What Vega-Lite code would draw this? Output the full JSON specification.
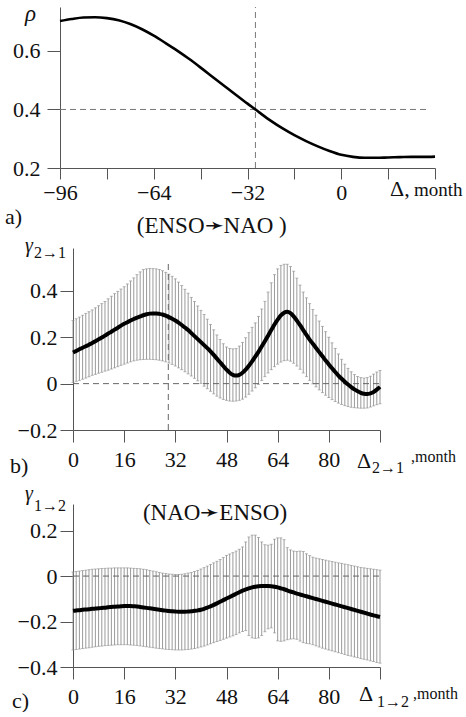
{
  "$schema": "https://vega.github.io/schema/vega-lite/v6.json",
  "padding": {"left": 5, "top": 3, "right": 0, "bottom": 0},
  "background": "white",
  "config": {
    "font": "Liberation Serif",
    "view": {"stroke": null},
    "axis": {
      "grid": false,
      "domainColor": "#555",
      "domainWidth": 1,
      "tickColor": "#555",
      "tickWidth": 1,
      "labelColor": "#111",
      "labelFont": "Liberation Serif",
      "labelFontSize": 22,
      "labelFlush": false,
      "labelOverlap": false
    },
    "text": {"font": "Liberation Serif", "color": "#111"}
  },
  "datasets": {
    "rho": [
      {"lag": -96, "rho": 0.702}, {"lag": -92, "rho": 0.709}, {"lag": -88, "rho": 0.714}, {"lag": -84, "rho": 0.715},
      {"lag": -80, "rho": 0.712}, {"lag": -76, "rho": 0.705}, {"lag": -72, "rho": 0.692}, {"lag": -68, "rho": 0.674},
      {"lag": -64, "rho": 0.652}, {"lag": -60, "rho": 0.627}, {"lag": -56, "rho": 0.601}, {"lag": -52, "rho": 0.573},
      {"lag": -48, "rho": 0.543}, {"lag": -44, "rho": 0.512}, {"lag": -40, "rho": 0.481}, {"lag": -36, "rho": 0.450},
      {"lag": -32, "rho": 0.420}, {"lag": -28, "rho": 0.390}, {"lag": -24, "rho": 0.361}, {"lag": -20, "rho": 0.335},
      {"lag": -16, "rho": 0.312}, {"lag": -12, "rho": 0.292}, {"lag": -8, "rho": 0.274}, {"lag": -4, "rho": 0.258},
      {"lag": 0, "rho": 0.245}, {"lag": 4, "rho": 0.238}, {"lag": 8, "rho": 0.235}, {"lag": 12, "rho": 0.235},
      {"lag": 16, "rho": 0.236}, {"lag": 20, "rho": 0.237}, {"lag": 24, "rho": 0.238}, {"lag": 28, "rho": 0.238},
      {"lag": 32, "rho": 0.239}
    ],
    "enso_nao": [
      {"lag": 0, "gamma": 0.134, "lower": 0.005, "upper": 0.272},
      {"lag": 1, "gamma": 0.141, "lower": 0.010, "upper": 0.280},
      {"lag": 2, "gamma": 0.148, "lower": 0.014, "upper": 0.287},
      {"lag": 3, "gamma": 0.155, "lower": 0.019, "upper": 0.295},
      {"lag": 4, "gamma": 0.161, "lower": 0.024, "upper": 0.303},
      {"lag": 5, "gamma": 0.168, "lower": 0.030, "upper": 0.310},
      {"lag": 6, "gamma": 0.175, "lower": 0.036, "upper": 0.318},
      {"lag": 7, "gamma": 0.183, "lower": 0.040, "upper": 0.327},
      {"lag": 8, "gamma": 0.191, "lower": 0.045, "upper": 0.336},
      {"lag": 9, "gamma": 0.199, "lower": 0.049, "upper": 0.345},
      {"lag": 10, "gamma": 0.207, "lower": 0.054, "upper": 0.354},
      {"lag": 11, "gamma": 0.216, "lower": 0.058, "upper": 0.366},
      {"lag": 12, "gamma": 0.224, "lower": 0.063, "upper": 0.377},
      {"lag": 13, "gamma": 0.233, "lower": 0.068, "upper": 0.388},
      {"lag": 14, "gamma": 0.241, "lower": 0.073, "upper": 0.398},
      {"lag": 15, "gamma": 0.250, "lower": 0.079, "upper": 0.408},
      {"lag": 16, "gamma": 0.258, "lower": 0.084, "upper": 0.418},
      {"lag": 17, "gamma": 0.265, "lower": 0.089, "upper": 0.430},
      {"lag": 18, "gamma": 0.272, "lower": 0.094, "upper": 0.443},
      {"lag": 19, "gamma": 0.279, "lower": 0.098, "upper": 0.456},
      {"lag": 20, "gamma": 0.285, "lower": 0.101, "upper": 0.470},
      {"lag": 21, "gamma": 0.290, "lower": 0.103, "upper": 0.482},
      {"lag": 22, "gamma": 0.295, "lower": 0.104, "upper": 0.492},
      {"lag": 23, "gamma": 0.299, "lower": 0.105, "upper": 0.495},
      {"lag": 24, "gamma": 0.302, "lower": 0.105, "upper": 0.497},
      {"lag": 25, "gamma": 0.303, "lower": 0.104, "upper": 0.496},
      {"lag": 26, "gamma": 0.303, "lower": 0.103, "upper": 0.495},
      {"lag": 27, "gamma": 0.301, "lower": 0.101, "upper": 0.492},
      {"lag": 28, "gamma": 0.298, "lower": 0.098, "upper": 0.487},
      {"lag": 29, "gamma": 0.293, "lower": 0.094, "upper": 0.480},
      {"lag": 30, "gamma": 0.287, "lower": 0.089, "upper": 0.472},
      {"lag": 31, "gamma": 0.280, "lower": 0.083, "upper": 0.463},
      {"lag": 32, "gamma": 0.272, "lower": 0.076, "upper": 0.452},
      {"lag": 33, "gamma": 0.263, "lower": 0.068, "upper": 0.438},
      {"lag": 34, "gamma": 0.253, "lower": 0.060, "upper": 0.423},
      {"lag": 35, "gamma": 0.242, "lower": 0.051, "upper": 0.407},
      {"lag": 36, "gamma": 0.231, "lower": 0.042, "upper": 0.390},
      {"lag": 37, "gamma": 0.218, "lower": 0.033, "upper": 0.372},
      {"lag": 38, "gamma": 0.205, "lower": 0.023, "upper": 0.354},
      {"lag": 39, "gamma": 0.192, "lower": 0.012, "upper": 0.335},
      {"lag": 40, "gamma": 0.179, "lower": 0.001, "upper": 0.316},
      {"lag": 41, "gamma": 0.166, "lower": -0.011, "upper": 0.298},
      {"lag": 42, "gamma": 0.153, "lower": -0.022, "upper": 0.278},
      {"lag": 43, "gamma": 0.139, "lower": -0.033, "upper": 0.255},
      {"lag": 44, "gamma": 0.124, "lower": -0.044, "upper": 0.232},
      {"lag": 45, "gamma": 0.108, "lower": -0.054, "upper": 0.210},
      {"lag": 46, "gamma": 0.092, "lower": -0.062, "upper": 0.190},
      {"lag": 47, "gamma": 0.076, "lower": -0.068, "upper": 0.172},
      {"lag": 48, "gamma": 0.060, "lower": -0.072, "upper": 0.158},
      {"lag": 49, "gamma": 0.047, "lower": -0.075, "upper": 0.152},
      {"lag": 50, "gamma": 0.038, "lower": -0.076, "upper": 0.150},
      {"lag": 51, "gamma": 0.035, "lower": -0.075, "upper": 0.151},
      {"lag": 52, "gamma": 0.038, "lower": -0.072, "upper": 0.162},
      {"lag": 53, "gamma": 0.047, "lower": -0.067, "upper": 0.178},
      {"lag": 54, "gamma": 0.060, "lower": -0.058, "upper": 0.198},
      {"lag": 55, "gamma": 0.077, "lower": -0.046, "upper": 0.220},
      {"lag": 56, "gamma": 0.096, "lower": -0.032, "upper": 0.243},
      {"lag": 57, "gamma": 0.116, "lower": -0.018, "upper": 0.262},
      {"lag": 58, "gamma": 0.137, "lower": -0.003, "upper": 0.290},
      {"lag": 59, "gamma": 0.160, "lower": 0.013, "upper": 0.322},
      {"lag": 60, "gamma": 0.183, "lower": 0.030, "upper": 0.355},
      {"lag": 61, "gamma": 0.207, "lower": 0.046, "upper": 0.395},
      {"lag": 62, "gamma": 0.231, "lower": 0.060, "upper": 0.435},
      {"lag": 63, "gamma": 0.255, "lower": 0.073, "upper": 0.470},
      {"lag": 64, "gamma": 0.276, "lower": 0.084, "upper": 0.495},
      {"lag": 65, "gamma": 0.294, "lower": 0.093, "upper": 0.510},
      {"lag": 66, "gamma": 0.306, "lower": 0.099, "upper": 0.515},
      {"lag": 67, "gamma": 0.310, "lower": 0.101, "upper": 0.515},
      {"lag": 68, "gamma": 0.304, "lower": 0.097, "upper": 0.505},
      {"lag": 69, "gamma": 0.290, "lower": 0.088, "upper": 0.485},
      {"lag": 70, "gamma": 0.272, "lower": 0.076, "upper": 0.455},
      {"lag": 71, "gamma": 0.252, "lower": 0.062, "upper": 0.425},
      {"lag": 72, "gamma": 0.231, "lower": 0.046, "upper": 0.395},
      {"lag": 73, "gamma": 0.210, "lower": 0.030, "upper": 0.370},
      {"lag": 74, "gamma": 0.190, "lower": 0.014, "upper": 0.345},
      {"lag": 75, "gamma": 0.172, "lower": -0.001, "upper": 0.320},
      {"lag": 76, "gamma": 0.154, "lower": -0.014, "upper": 0.295},
      {"lag": 77, "gamma": 0.136, "lower": -0.027, "upper": 0.270},
      {"lag": 78, "gamma": 0.118, "lower": -0.039, "upper": 0.247},
      {"lag": 79, "gamma": 0.100, "lower": -0.050, "upper": 0.224},
      {"lag": 80, "gamma": 0.083, "lower": -0.060, "upper": 0.200},
      {"lag": 81, "gamma": 0.066, "lower": -0.069, "upper": 0.176},
      {"lag": 82, "gamma": 0.050, "lower": -0.077, "upper": 0.152},
      {"lag": 83, "gamma": 0.035, "lower": -0.084, "upper": 0.128},
      {"lag": 84, "gamma": 0.021, "lower": -0.090, "upper": 0.105},
      {"lag": 85, "gamma": 0.008, "lower": -0.095, "upper": 0.084},
      {"lag": 86, "gamma": -0.004, "lower": -0.099, "upper": 0.066},
      {"lag": 87, "gamma": -0.015, "lower": -0.102, "upper": 0.051},
      {"lag": 88, "gamma": -0.025, "lower": -0.104, "upper": 0.039},
      {"lag": 89, "gamma": -0.033, "lower": -0.105, "upper": 0.031},
      {"lag": 90, "gamma": -0.040, "lower": -0.106, "upper": 0.026},
      {"lag": 91, "gamma": -0.044, "lower": -0.106, "upper": 0.024},
      {"lag": 92, "gamma": -0.045, "lower": -0.105, "upper": 0.026},
      {"lag": 93, "gamma": -0.042, "lower": -0.101, "upper": 0.032},
      {"lag": 94, "gamma": -0.036, "lower": -0.096, "upper": 0.041},
      {"lag": 95, "gamma": -0.026, "lower": -0.091, "upper": 0.050},
      {"lag": 96, "gamma": -0.014, "lower": -0.087, "upper": 0.057}
    ],
    "nao_enso": [
      {"lag": 0, "gamma": -0.153, "lower": -0.325, "upper": 0.018},
      {"lag": 1, "gamma": -0.151, "lower": -0.323, "upper": 0.020},
      {"lag": 2, "gamma": -0.150, "lower": -0.321, "upper": 0.022},
      {"lag": 3, "gamma": -0.148, "lower": -0.319, "upper": 0.024},
      {"lag": 4, "gamma": -0.147, "lower": -0.317, "upper": 0.026},
      {"lag": 5, "gamma": -0.146, "lower": -0.315, "upper": 0.028},
      {"lag": 6, "gamma": -0.144, "lower": -0.313, "upper": 0.030},
      {"lag": 7, "gamma": -0.143, "lower": -0.311, "upper": 0.031},
      {"lag": 8, "gamma": -0.142, "lower": -0.309, "upper": 0.032},
      {"lag": 9, "gamma": -0.140, "lower": -0.308, "upper": 0.033},
      {"lag": 10, "gamma": -0.139, "lower": -0.306, "upper": 0.034},
      {"lag": 11, "gamma": -0.137, "lower": -0.305, "upper": 0.035},
      {"lag": 12, "gamma": -0.136, "lower": -0.304, "upper": 0.035},
      {"lag": 13, "gamma": -0.135, "lower": -0.303, "upper": 0.036},
      {"lag": 14, "gamma": -0.134, "lower": -0.302, "upper": 0.036},
      {"lag": 15, "gamma": -0.133, "lower": -0.302, "upper": 0.036},
      {"lag": 16, "gamma": -0.132, "lower": -0.302, "upper": 0.036},
      {"lag": 17, "gamma": -0.132, "lower": -0.302, "upper": 0.036},
      {"lag": 18, "gamma": -0.132, "lower": -0.303, "upper": 0.035},
      {"lag": 19, "gamma": -0.133, "lower": -0.304, "upper": 0.034},
      {"lag": 20, "gamma": -0.134, "lower": -0.305, "upper": 0.033},
      {"lag": 21, "gamma": -0.136, "lower": -0.307, "upper": 0.032},
      {"lag": 22, "gamma": -0.138, "lower": -0.309, "upper": 0.030},
      {"lag": 23, "gamma": -0.140, "lower": -0.311, "upper": 0.028},
      {"lag": 24, "gamma": -0.142, "lower": -0.313, "upper": 0.025},
      {"lag": 25, "gamma": -0.144, "lower": -0.315, "upper": 0.022},
      {"lag": 26, "gamma": -0.146, "lower": -0.317, "upper": 0.019},
      {"lag": 27, "gamma": -0.148, "lower": -0.319, "upper": 0.016},
      {"lag": 28, "gamma": -0.150, "lower": -0.320, "upper": 0.013},
      {"lag": 29, "gamma": -0.152, "lower": -0.322, "upper": 0.011},
      {"lag": 30, "gamma": -0.154, "lower": -0.323, "upper": 0.009},
      {"lag": 31, "gamma": -0.155, "lower": -0.324, "upper": 0.008},
      {"lag": 32, "gamma": -0.156, "lower": -0.325, "upper": 0.007},
      {"lag": 33, "gamma": -0.157, "lower": -0.325, "upper": 0.007},
      {"lag": 34, "gamma": -0.157, "lower": -0.325, "upper": 0.008},
      {"lag": 35, "gamma": -0.157, "lower": -0.324, "upper": 0.010},
      {"lag": 36, "gamma": -0.156, "lower": -0.323, "upper": 0.013},
      {"lag": 37, "gamma": -0.155, "lower": -0.321, "upper": 0.016},
      {"lag": 38, "gamma": -0.153, "lower": -0.319, "upper": 0.020},
      {"lag": 39, "gamma": -0.151, "lower": -0.316, "upper": 0.025},
      {"lag": 40, "gamma": -0.148, "lower": -0.312, "upper": 0.031},
      {"lag": 41, "gamma": -0.144, "lower": -0.308, "upper": 0.037},
      {"lag": 42, "gamma": -0.139, "lower": -0.303, "upper": 0.044},
      {"lag": 43, "gamma": -0.133, "lower": -0.298, "upper": 0.051},
      {"lag": 44, "gamma": -0.127, "lower": -0.293, "upper": 0.058},
      {"lag": 45, "gamma": -0.120, "lower": -0.288, "upper": 0.065},
      {"lag": 46, "gamma": -0.113, "lower": -0.283, "upper": 0.073},
      {"lag": 47, "gamma": -0.106, "lower": -0.278, "upper": 0.082},
      {"lag": 48, "gamma": -0.099, "lower": -0.273, "upper": 0.091},
      {"lag": 49, "gamma": -0.092, "lower": -0.268, "upper": 0.097},
      {"lag": 50, "gamma": -0.085, "lower": -0.263, "upper": 0.103},
      {"lag": 51, "gamma": -0.078, "lower": -0.257, "upper": 0.110},
      {"lag": 52, "gamma": -0.071, "lower": -0.250, "upper": 0.118},
      {"lag": 53, "gamma": -0.064, "lower": -0.244, "upper": 0.128},
      {"lag": 54, "gamma": -0.059, "lower": -0.240, "upper": 0.150},
      {"lag": 55, "gamma": -0.054, "lower": -0.262, "upper": 0.172},
      {"lag": 56, "gamma": -0.050, "lower": -0.272, "upper": 0.180},
      {"lag": 57, "gamma": -0.047, "lower": -0.274, "upper": 0.180},
      {"lag": 58, "gamma": -0.045, "lower": -0.272, "upper": 0.170},
      {"lag": 59, "gamma": -0.044, "lower": -0.262, "upper": 0.150},
      {"lag": 60, "gamma": -0.044, "lower": -0.245, "upper": 0.138},
      {"lag": 61, "gamma": -0.044, "lower": -0.232, "upper": 0.136},
      {"lag": 62, "gamma": -0.045, "lower": -0.228, "upper": 0.140},
      {"lag": 63, "gamma": -0.047, "lower": -0.250, "upper": 0.162},
      {"lag": 64, "gamma": -0.050, "lower": -0.285, "upper": 0.168},
      {"lag": 65, "gamma": -0.054, "lower": -0.287, "upper": 0.168},
      {"lag": 66, "gamma": -0.058, "lower": -0.285, "upper": 0.160},
      {"lag": 67, "gamma": -0.063, "lower": -0.280, "upper": 0.125},
      {"lag": 68, "gamma": -0.068, "lower": -0.277, "upper": 0.115},
      {"lag": 69, "gamma": -0.072, "lower": -0.276, "upper": 0.110},
      {"lag": 70, "gamma": -0.077, "lower": -0.278, "upper": 0.108},
      {"lag": 71, "gamma": -0.081, "lower": -0.286, "upper": 0.110},
      {"lag": 72, "gamma": -0.085, "lower": -0.293, "upper": 0.108},
      {"lag": 73, "gamma": -0.089, "lower": -0.296, "upper": 0.098},
      {"lag": 74, "gamma": -0.093, "lower": -0.298, "upper": 0.090},
      {"lag": 75, "gamma": -0.097, "lower": -0.302, "upper": 0.083},
      {"lag": 76, "gamma": -0.101, "lower": -0.307, "upper": 0.079},
      {"lag": 77, "gamma": -0.105, "lower": -0.312, "upper": 0.076},
      {"lag": 78, "gamma": -0.109, "lower": -0.317, "upper": 0.073},
      {"lag": 79, "gamma": -0.113, "lower": -0.321, "upper": 0.070},
      {"lag": 80, "gamma": -0.117, "lower": -0.325, "upper": 0.067},
      {"lag": 81, "gamma": -0.121, "lower": -0.329, "upper": 0.064},
      {"lag": 82, "gamma": -0.125, "lower": -0.333, "upper": 0.061},
      {"lag": 83, "gamma": -0.129, "lower": -0.337, "upper": 0.058},
      {"lag": 84, "gamma": -0.133, "lower": -0.341, "upper": 0.056},
      {"lag": 85, "gamma": -0.137, "lower": -0.345, "upper": 0.053},
      {"lag": 86, "gamma": -0.141, "lower": -0.349, "upper": 0.050},
      {"lag": 87, "gamma": -0.145, "lower": -0.352, "upper": 0.047},
      {"lag": 88, "gamma": -0.149, "lower": -0.356, "upper": 0.044},
      {"lag": 89, "gamma": -0.153, "lower": -0.359, "upper": 0.041},
      {"lag": 90, "gamma": -0.157, "lower": -0.363, "upper": 0.038},
      {"lag": 91, "gamma": -0.161, "lower": -0.366, "upper": 0.036},
      {"lag": 92, "gamma": -0.165, "lower": -0.369, "upper": 0.034},
      {"lag": 93, "gamma": -0.169, "lower": -0.373, "upper": 0.032},
      {"lag": 94, "gamma": -0.173, "lower": -0.376, "upper": 0.030},
      {"lag": 95, "gamma": -0.177, "lower": -0.380, "upper": 0.028},
      {"lag": 96, "gamma": -0.180, "lower": -0.383, "upper": 0.026}
    ]
  },
  "bounds": "flush",
  "spacing": 80,
  "vconcat": [
    {
      "width": 375,
      "height": 161,
      "layer": [
        {
          "data": {"values": [{}]},
          "mark": {"type": "rule", "color": "#777", "strokeWidth": 1, "strokeDash": [6, 4]},
          "encoding": {"x": {"datum": -29.3}, "y": {"datum": 0.2}, "y2": {"datum": 0.75}}
        },
        {
          "data": {"values": [{}]},
          "mark": {"type": "rule", "color": "#777", "strokeWidth": 1, "strokeDash": [6, 4]},
          "encoding": {"x": {"datum": -96}, "x2": {"datum": 30.3}, "y": {"datum": 0.4}}
        },
        {
          "data": {"name": "rho"},
          "mark": {"type": "line", "color": "#000", "strokeWidth": 2.6, "interpolate": "monotone"},
          "encoding": {
            "x": {
              "field": "lag", "type": "quantitative", "title": null,
              "scale": {"domain": [-96, 32], "nice": false, "zero": false},
              "axis": {
                "values": [-96, -92, -88, -84, -80, -76, -72, -68, -64, -60, -56, -52, -48, -44, -40, -36, -32, -28, -24, -20, -16, -12, -8, -4, 0, 4, 8, 12, 16, 20, 24, 28, 32],
                "labelExpr": "(datum.value % 32 == 0 && datum.value <= 0) ? datum.label : ''",
                "labelFont": "Liberation Serif",
                "tickSize": {"condition": {"test": "datum.value % 16 == 0", "value": 11}, "value": 5},
                "labelPadding": 3
              }
            },
            "y": {
              "field": "rho", "type": "quantitative", "title": null,
              "scale": {"domain": [0.2, 0.75], "nice": false, "zero": false},
              "axis": {
                "values": [0.2, 0.25, 0.3, 0.35, 0.4, 0.45, 0.5, 0.55, 0.6, 0.65, 0.7],
                "labelExpr": "indexof([0.2, 0.4, 0.6], datum.value) >= 0 ? format(datum.value, '.1f') : ''",
                "labelFont": "Liberation Serif",
                "tickSize": {"condition": {"test": "indexof([0.2, 0.4, 0.6], datum.value) >= 0", "value": 13}, "value": 6},
                "labelPadding": 7
              }
            }
          }
        },
        {
          "data": {"values": [{}]},
          "mark": {"type": "text", "text": "ρ", "fontSize": 23, "fontStyle": "italic", "align": "left", "baseline": "alphabetic", "dx": -35, "dy": 14},
          "encoding": {"x": {"datum": -96}, "y": {"datum": 0.75}}
        },
        {
          "data": {"values": [{}]},
          "mark": {"type": "text", "text": "a)", "fontSize": 22, "align": "left", "baseline": "alphabetic", "dx": -55, "dy": 56},
          "encoding": {"x": {"datum": -96}, "y": {"datum": 0.2}}
        },
        {
          "data": {"values": [{}]},
          "mark": {"type": "text", "text": "Δ,", "fontSize": 22, "align": "left", "baseline": "alphabetic", "dx": -45, "dy": 28},
          "encoding": {"x": {"datum": 32}, "y": {"datum": 0.2}}
        },
        {
          "data": {"values": [{}]},
          "mark": {"type": "text", "text": "month", "fontSize": 19, "align": "left", "baseline": "alphabetic", "dx": -21, "dy": 28},
          "encoding": {"x": {"datum": 32}, "y": {"datum": 0.2}}
        }
      ]
    },
    {
      "bounds": "flush",
      "spacing": 0,
      "hconcat": [
        {
          "width": 13,
          "height": 10,
          "data": {"values": []},
          "mark": "point"
        },
        {
          "bounds": "flush",
          "spacing": 74,
          "vconcat": [
            {
              "width": 307,
              "height": 182,
              "layer": [
                {
                  "data": {"name": "enso_nao"},
                  "mark": {"type": "rule", "color": "#8f8f8f", "strokeWidth": 0.9},
                  "encoding": {
                    "x": {
                      "field": "lag", "type": "quantitative", "title": null,
                      "scale": {"domain": [0, 96], "nice": false, "zero": false},
                      "axis": {
                        "values": [0, 4, 8, 12, 16, 20, 24, 28, 32, 36, 40, 44, 48, 52, 56, 60, 64, 68, 72, 76, 80, 84, 88, 92, 96],
                        "labelExpr": "(datum.value % 16 == 0 && datum.value < 96) ? datum.label : ''",
                        "labelFont": "Liberation Serif",
                        "tickSize": {"condition": {"test": "datum.value % 16 == 0", "value": 12}, "value": 5},
                        "labelPadding": 7
                      }
                    },
                    "y": {
                      "field": "lower", "type": "quantitative", "title": null,
                      "scale": {"domain": [-0.2, 0.585], "nice": false, "zero": false},
                      "axis": {
                        "values": [-0.2, -0.1, 0, 0.1, 0.2, 0.3, 0.4, 0.5],
                        "labelExpr": "datum.value == 0 ? '0' : (indexof([-0.2, 0.2, 0.4], datum.value) >= 0 ? format(datum.value, '.1f') : '')",
                        "labelFont": "Liberation Serif",
                        "tickSize": {"condition": {"test": "indexof([-0.2, 0, 0.2, 0.4], datum.value) >= 0", "value": 13}, "value": 6},
                        "labelPadding": 3
                      }
                    },
                    "y2": {"field": "upper"}
                  }
                },
                {
                  "data": {"name": "enso_nao"},
                  "mark": {"type": "tick", "orient": "horizontal", "size": 3, "thickness": 0.9, "color": "#8f8f8f"},
                  "encoding": {
                    "x": {"field": "lag", "type": "quantitative", "title": null},
                    "y": {"field": "upper", "type": "quantitative", "title": null}
                  }
                },
                {
                  "data": {"name": "enso_nao"},
                  "mark": {"type": "tick", "orient": "horizontal", "size": 3, "thickness": 0.9, "color": "#8f8f8f"},
                  "encoding": {
                    "x": {"field": "lag", "type": "quantitative", "title": null},
                    "y": {"field": "lower", "type": "quantitative", "title": null}
                  }
                },
                {
                  "data": {"values": [{}]},
                  "mark": {"type": "rule", "color": "#666", "strokeWidth": 1, "strokeDash": [6, 4]},
                  "encoding": {"x": {"datum": 0}, "x2": {"datum": 96}, "y": {"datum": 0}}
                },
                {
                  "data": {"values": [{}]},
                  "mark": {"type": "rule", "color": "#666", "strokeWidth": 1, "strokeDash": [6, 4]},
                  "encoding": {"x": {"datum": 29.8}, "y": {"datum": -0.2}, "y2": {"datum": 0.52}}
                },
                {
                  "data": {"name": "enso_nao"},
                  "mark": {"type": "line", "color": "#000", "strokeWidth": 4, "interpolate": "monotone"},
                  "encoding": {
                    "x": {"field": "lag", "type": "quantitative", "title": null},
                    "y": {"field": "gamma", "type": "quantitative", "title": null}
                  }
                },
                {
                  "data": {"values": [{}]},
                  "mark": {"type": "text", "text": "(ENSO➛NAO )", "fontSize": 23, "align": "center", "baseline": "alphabetic", "dy": -15},
                  "encoding": {"x": {"datum": 43.4}, "y": {"datum": 0.585}}
                },
                {
                  "data": {"values": [{}]},
                  "mark": {"type": "text", "text": "γ", "fontSize": 20, "fontStyle": "italic", "align": "left", "baseline": "alphabetic", "dx": -48, "dy": 4},
                  "encoding": {"x": {"datum": 0}, "y": {"datum": 0.585}}
                },
                {
                  "data": {"values": [{}]},
                  "mark": {"type": "text", "text": "2→1", "fontSize": 16, "align": "left", "baseline": "alphabetic", "dx": -39, "dy": 10},
                  "encoding": {"x": {"datum": 0}, "y": {"datum": 0.585}}
                },
                {
                  "data": {"values": [{}]},
                  "mark": {"type": "text", "text": "b)", "fontSize": 22, "align": "left", "baseline": "alphabetic", "dx": -63, "dy": 43},
                  "encoding": {"x": {"datum": 0}, "y": {"datum": -0.2}}
                },
                {
                  "data": {"values": [{}]},
                  "mark": {"type": "text", "text": "Δ", "fontSize": 22, "align": "left", "baseline": "alphabetic", "dx": -23, "dy": 38},
                  "encoding": {"x": {"datum": 96}, "y": {"datum": -0.2}}
                },
                {
                  "data": {"values": [{}]},
                  "mark": {"type": "text", "text": "2→1", "fontSize": 16, "align": "left", "baseline": "alphabetic", "dx": -8, "dy": 43},
                  "encoding": {"x": {"datum": 96}, "y": {"datum": -0.2}}
                },
                {
                  "data": {"values": [{}]},
                  "mark": {"type": "text", "text": ",month", "fontSize": 16, "align": "left", "baseline": "alphabetic", "dx": 31, "dy": 32},
                  "encoding": {"x": {"datum": 96}, "y": {"datum": -0.2}}
                }
              ]
            },
            {
              "width": 307,
              "height": 163,
              "layer": [
                {
                  "data": {"name": "nao_enso"},
                  "mark": {"type": "rule", "color": "#8f8f8f", "strokeWidth": 0.9},
                  "encoding": {
                    "x": {
                      "field": "lag", "type": "quantitative", "title": null,
                      "scale": {"domain": [0, 96], "nice": false, "zero": false},
                      "axis": {
                        "values": [0, 4, 8, 12, 16, 20, 24, 28, 32, 36, 40, 44, 48, 52, 56, 60, 64, 68, 72, 76, 80, 84, 88, 92, 96],
                        "labelExpr": "(datum.value % 16 == 0 && datum.value < 96) ? datum.label : ''",
                        "labelFont": "Liberation Serif",
                        "tickSize": {"condition": {"test": "datum.value % 16 == 0", "value": 12}, "value": 5},
                        "labelPadding": 7
                      }
                    },
                    "y": {
                      "field": "lower", "type": "quantitative", "title": null,
                      "scale": {"domain": [-0.4, 0.317], "nice": false, "zero": false},
                      "axis": {
                        "values": [-0.4, -0.3, -0.2, -0.1, 0, 0.1, 0.2],
                        "labelExpr": "datum.value == 0 ? '0' : (indexof([-0.4, -0.2, 0.2], datum.value) >= 0 ? format(datum.value, '.1f') : '')",
                        "labelFont": "Liberation Serif",
                        "tickSize": {"condition": {"test": "indexof([-0.4, -0.2, 0, 0.2], datum.value) >= 0", "value": 13}, "value": 6},
                        "labelPadding": 3
                      }
                    },
                    "y2": {"field": "upper"}
                  }
                },
                {
                  "data": {"name": "nao_enso"},
                  "mark": {"type": "tick", "orient": "horizontal", "size": 3, "thickness": 0.9, "color": "#8f8f8f"},
                  "encoding": {
                    "x": {"field": "lag", "type": "quantitative", "title": null},
                    "y": {"field": "upper", "type": "quantitative", "title": null}
                  }
                },
                {
                  "data": {"name": "nao_enso"},
                  "mark": {"type": "tick", "orient": "horizontal", "size": 3, "thickness": 0.9, "color": "#8f8f8f"},
                  "encoding": {
                    "x": {"field": "lag", "type": "quantitative", "title": null},
                    "y": {"field": "lower", "type": "quantitative", "title": null}
                  }
                },
                {
                  "data": {"values": [{}]},
                  "mark": {"type": "rule", "color": "#666", "strokeWidth": 1, "strokeDash": [6, 4]},
                  "encoding": {"x": {"datum": 0}, "x2": {"datum": 96}, "y": {"datum": 0}}
                },
                {
                  "data": {"name": "nao_enso"},
                  "mark": {"type": "line", "color": "#000", "strokeWidth": 4, "interpolate": "monotone"},
                  "encoding": {
                    "x": {"field": "lag", "type": "quantitative", "title": null},
                    "y": {"field": "gamma", "type": "quantitative", "title": null}
                  }
                },
                {
                  "data": {"values": [{}]},
                  "mark": {"type": "text", "text": "(NAO➛ENSO)", "fontSize": 23, "align": "center", "baseline": "alphabetic", "dy": 16},
                  "encoding": {"x": {"datum": 44.4}, "y": {"datum": 0.317}}
                },
                {
                  "data": {"values": [{}]},
                  "mark": {"type": "text", "text": "γ", "fontSize": 20, "fontStyle": "italic", "align": "left", "baseline": "alphabetic", "dx": -48, "dy": -4},
                  "encoding": {"x": {"datum": 0}, "y": {"datum": 0.317}}
                },
                {
                  "data": {"values": [{}]},
                  "mark": {"type": "text", "text": "1→2", "fontSize": 16, "align": "left", "baseline": "alphabetic", "dx": -39, "dy": 7},
                  "encoding": {"x": {"datum": 0}, "y": {"datum": 0.317}}
                },
                {
                  "data": {"values": [{}]},
                  "mark": {"type": "text", "text": "c)", "fontSize": 22, "align": "left", "baseline": "alphabetic", "dx": -61, "dy": 41},
                  "encoding": {"x": {"datum": 0}, "y": {"datum": -0.4}}
                },
                {
                  "data": {"values": [{}]},
                  "mark": {"type": "text", "text": "Δ", "fontSize": 22, "align": "left", "baseline": "alphabetic", "dx": -21, "dy": 34},
                  "encoding": {"x": {"datum": 96}, "y": {"datum": -0.4}}
                },
                {
                  "data": {"values": [{}]},
                  "mark": {"type": "text", "text": "1→2", "fontSize": 16, "align": "left", "baseline": "alphabetic", "dx": -3, "dy": 40},
                  "encoding": {"x": {"datum": 96}, "y": {"datum": -0.4}}
                },
                {
                  "data": {"values": [{}]},
                  "mark": {"type": "text", "text": ",month", "fontSize": 16, "align": "left", "baseline": "alphabetic", "dx": 33, "dy": 32},
                  "encoding": {"x": {"datum": 96}, "y": {"datum": -0.4}}
                }
              ]
            }
          ]
        }
      ]
    }
  ]
}
